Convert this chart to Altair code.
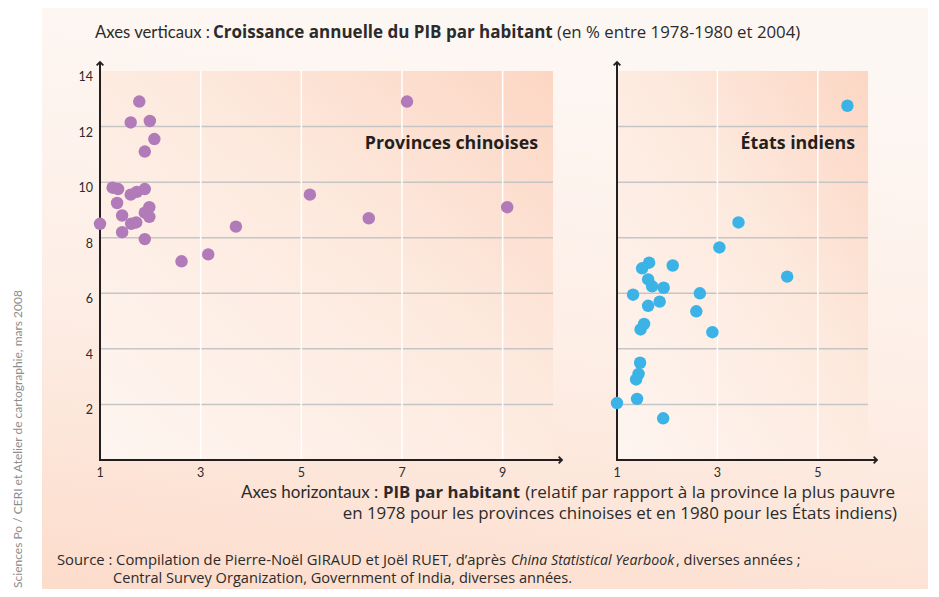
import altair as alt
import pandas as pd

# ---- data ----
china_x = [1.78, 1.61, 1.99, 2.08, 1.89, 1.25, 1.36, 1.89, 1.61, 1.73, 1.34, 1.98, 1.89, 1.98,
           1.44, 1.62, 1.72, 1.00, 1.44, 1.89, 2.62, 3.15, 3.70, 5.17, 7.10, 6.34, 9.09]
china_y = [12.9, 12.15, 12.2, 11.55, 11.1, 9.8, 9.75, 9.75, 9.55, 9.65, 9.25, 9.1, 8.9, 8.75,
           8.8, 8.5, 8.55, 8.5, 8.2, 7.95, 7.15, 7.4, 8.4, 9.55, 12.9, 8.7, 9.1]
india_x = [5.59, 3.42, 3.04, 1.50, 1.64, 2.11, 4.39, 1.62, 1.70, 1.93, 1.32, 2.65, 1.62, 1.85,
           2.58, 1.54, 1.47, 2.90, 1.46, 1.43, 1.38, 1.40, 1.00, 1.92]
india_y = [12.75, 8.55, 7.65, 6.9, 7.1, 7.0, 6.6, 6.5, 6.25, 6.2, 5.95, 6.0, 5.55, 5.7,
           5.35, 4.9, 4.7, 4.6, 3.5, 3.1, 2.9, 2.2, 2.05, 1.5]

y_ticks = [2, 4, 6, 8, 10, 12, 14]
grid_y = [2, 4, 6, 8, 10, 12]
china_x_ticks = [1, 3, 5, 7, 9]
india_x_ticks = [1, 3, 5]
china_vgrid = [3, 5, 7, 9]
india_vgrid = [3, 5]

W, H = 768, 389
LATO = "Lato"
OPEN = "Open Sans"
AX = "#231f20"
TXT = "#2b2b2b"

ys = alt.Scale(domain=[0, 14], nice=False, zero=False)
one = pd.DataFrame({"k": [0]})


def box_gradient():
    return alt.Gradient(
        gradient="linear",
        stops=[alt.GradientStop(color="#fef5f0", offset=0),
               alt.GradientStop(color="#fdeadf", offset=0.55),
               alt.GradientStop(color="#fcd6c3", offset=1)],
        x1=0, y1=1, x2=1, y2=0)


def panel(px, py, color, xt, vg, dom, rng, label, label_x, with_ylabels):
    sx = alt.Scale(domain=dom, range=rng, nice=False, zero=False)
    layers = []
    layers.append(alt.Chart(one).mark_rect(color=box_gradient()).encode(
        x=alt.XDatum(dom[0], scale=sx, axis=None), x2=alt.X2Datum(dom[1]),
        y=alt.YDatum(0, scale=ys, axis=None), y2=alt.Y2Datum(14)))
    layers.append(alt.Chart(pd.DataFrame({"gy": grid_y})).mark_rule(
        color="#c5c5c5", strokeWidth=1.5).encode(
        y=alt.Y("gy:Q", scale=ys, axis=None),
        x=alt.XDatum(dom[0], scale=sx, axis=None), x2=alt.X2Datum(dom[1])))
    layers.append(alt.Chart(pd.DataFrame({"gx": vg})).mark_rule(
        color="#ffffff", strokeWidth=1.5).encode(
        x=alt.X("gx:Q", scale=sx, axis=None),
        y=alt.YDatum(0, scale=ys, axis=None), y2=alt.Y2Datum(14)))
    layers.append(alt.Chart(one).mark_rule(color=AX, strokeWidth=2).encode(
        x=alt.XDatum(dom[0], scale=sx, axis=None), y=alt.value(-9), y2=alt.value(H + 1)))
    layers.append(alt.Chart(one).mark_rule(color=AX, strokeWidth=2).encode(
        y=alt.YDatum(0, scale=ys, axis=None),
        x=alt.XDatum(dom[0], scale=sx, axis=None), x2=alt.value(rng[1] + 9)))
    layers.append(alt.Chart(one).mark_point(
        shape="M-1,1L0,0L1,1", filled=False, color=AX, strokeWidth=1.8, size=45, opacity=1).encode(
        x=alt.XDatum(dom[0], scale=sx, axis=None), y=alt.value(-9)))
    layers.append(alt.Chart(one).mark_point(
        shape="M-1,-1L0,0L-1,1", filled=False, color=AX, strokeWidth=1.8, size=45, opacity=1).encode(
        x=alt.value(rng[1] + 9), y=alt.YDatum(0, scale=ys, axis=None)))
    layers.append(alt.Chart(pd.DataFrame({"x": px, "y": py})).mark_circle(
        size=155, color=color, opacity=1).encode(
        x=alt.X("x:Q", scale=sx, axis=None), y=alt.Y("y:Q", scale=ys, axis=None)))
    layers.append(alt.Chart(pd.DataFrame({"t": xt})).mark_text(
        font=LATO, fontSize=12.5, color=TXT, baseline="middle").encode(
        x=alt.X("t:Q", scale=sx, axis=None), y=alt.value(402), text="t:Q"))
    if with_ylabels:
        layers.append(alt.Chart(pd.DataFrame({"t": y_ticks})).mark_text(
            font=LATO, fontSize=12.5, color=TXT, baseline="middle", align="right", dy=6).encode(
            x=alt.value(-7), y=alt.Y("t:Q", scale=ys, axis=None), text="t:Q"))
    layers.append(alt.Chart(one).mark_text(
        text=label, font=OPEN, fontSize=17.8, fontWeight="bold", align="right",
        baseline="middle", color=AX).encode(x=alt.value(label_x), y=alt.value(73)))
    return alt.layer(*layers)


def txt(s, x, y, size=16, font=OPEN, weight="normal", style="normal", align="left",
        color=TXT, angle=0):
    return alt.Chart(one).mark_text(
        text=s, font=font, fontSize=size, fontWeight=weight, fontStyle=style, align=align,
        baseline="middle", color=color, angle=angle).encode(x=alt.value(x), y=alt.value(y))


bg = alt.Chart(one).mark_rect(color=alt.Gradient(
    gradient="linear",
    stops=[alt.GradientStop(color="#fdf7f3", offset=0),
           alt.GradientStop(color="#fdeee6", offset=0.5),
           alt.GradientStop(color="#fcdccb", offset=1)],
    x1=0.2, y1=0, x2=0, y2=1)).encode(
    x=alt.value(-58), x2=alt.value(830), y=alt.value(-63), y2=alt.value(520))

left = panel(china_x, china_y, "#b07bb8", china_x_ticks, china_vgrid, [1, 10], [0, 453],
             "Provinces chinoises", 438, True)
right = panel(india_x, india_y, "#3bb3e6", india_x_ticks, india_vgrid, [1, 6], [517, 768],
              "États indiens", 755, False)

texts = [
    txt("Axes verticaux :", -5, -38, 16.7, LATO),
    txt("Croissance annuelle du PIB par habitant", 113, -38, 17.0, OPEN, "bold"),
    txt("(en % entre 1978-1980 et 2004)", 457, -38, 16.8, OPEN),
    txt("Axes horizontaux :", 141, 422, 17.0, LATO),
    txt("PIB par habitant", 283, 422, 16.8, OPEN, "bold"),
    txt("(relatif par rapport à la province la plus pauvre", 795, 422, 17.1, OPEN,
        align="right"),
    txt("en 1978 pour les provinces chinoises et en 1980 pour les États indiens)", 797, 443,
        16.9, OPEN, align="right"),
    txt("Source : Compilation de Pierre-Noël GIRAUD et Joël RUET, d’après", -43, 490, 14.8),
    txt("China Statistical Yearbook", 411, 490, 14.2, style="italic"),
    txt(", diverses années ;", 576, 490, 14.6),
    txt("Central Survey Organization, Government of India, diverses années.", 13, 508, 14.6),
    txt("Sciences Po / CERI et Atelier de cartographie, mars 2008", -82, 368, 12, LATO,
        align="center", color="#8c8c8c", angle=270),
]

chart = alt.layer(bg, left, right, *texts).resolve_scale(x="independent").properties(
    width=W, height=H,
    padding={"left": 92, "top": 63, "right": 60, "bottom": 129},
    autosize=alt.AutoSizeParams(type="none"),
    background="white",
).configure_view(stroke=None)

chart.save("out.html", embed_options={"renderer": "svg", "actions": False})
